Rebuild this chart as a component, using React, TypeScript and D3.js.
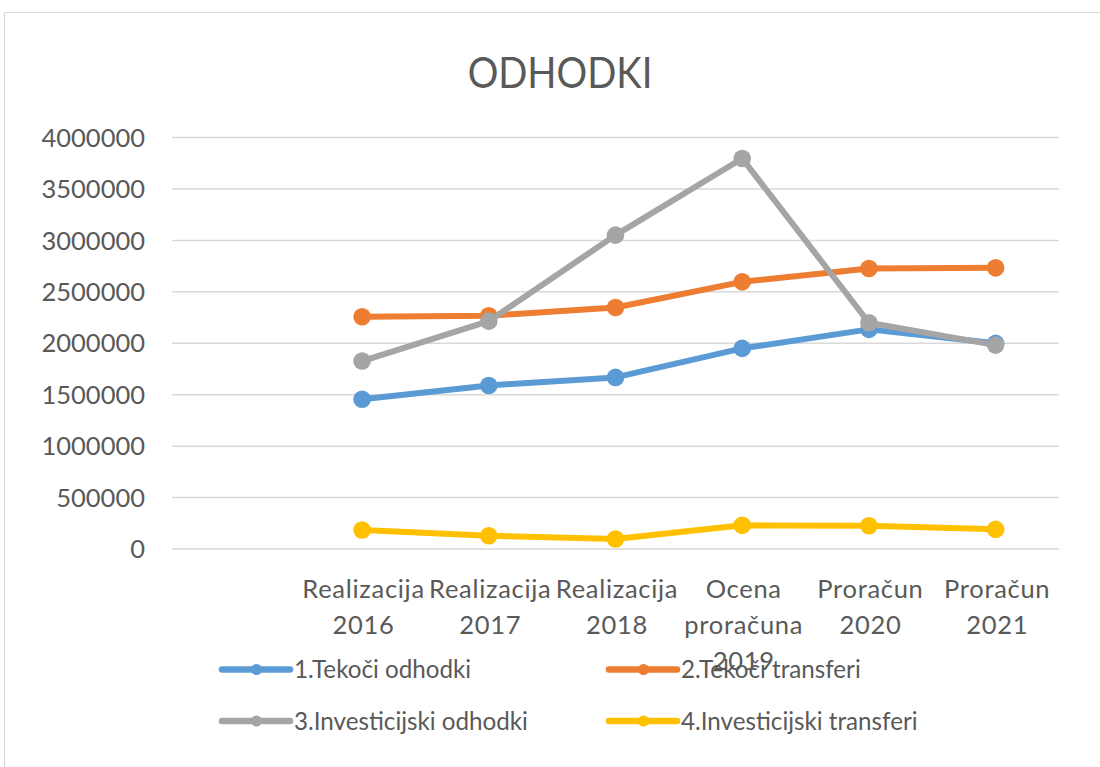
import React from "react";
import * as d3 from "d3";

const categories = [
  "",
  "Realizacija 2016",
  "Realizacija 2017",
  "Realizacija 2018",
  "Ocena proračuna 2019",
  "Proračun 2020",
  "Proračun 2021",
];
const dataCategories = categories.slice(1);

const seriesNames = [
  "1.Tekoči odhodki",
  "2.Tekoči transferi",
  "3.Investicijski odhodki",
  "4.Investicijski transferi",
];
const tekociOdhodki = [1455000, 1590000, 1668000, 1950000, 2135000, 1999000];
const tekociTransferi = [2257000, 2268000, 2348000, 2597000, 2727000, 2733000];
const investicijskiOdhodki = [1827000, 2215000, 3051000, 3796000, 2199000, 1982000];
const investicijskiTransferi = [185000, 129000, 97000, 230000, 226000, 191000];
const yTicks = [0, 500000, 1000000, 1500000, 2000000, 2500000, 3000000, 3500000, 4000000];

const colors = ["#5b9bd5", "#ed7d31", "#a5a5a5", "#ffc000"];
const seriesValues = [tekociOdhodki, tekociTransferi, investicijskiOdhodki, investicijskiTransferi];

const FONT = "Lato, 'Noto Sans', sans-serif";
const TEXT = "#595959";

export default function App() {
  const x = d3.scaleBand<string>().domain(categories).range([172, 1059]).padding(0);
  const y = d3.scaleLinear().domain([0, 4000000]).range([549, 137.5]);
  const cx = (c: string) => (x(c) as number) + x.bandwidth() / 2;

  const line = d3
    .line<number>()
    .x((_, i) => cx(dataCategories[i]))
    .y((d) => y(d));

  const drawOrder = [0, 1, 2, 3];

  const legendPos = [
    { x: 222, y: 669.5 },
    { x: 609, y: 669.5 },
    { x: 222, y: 721 },
    { x: 609, y: 721 },
  ];

  return (
    <svg
      width={1100}
      height={767}
      style={{ position: "absolute", left: 0, top: 0, background: "#fff" }}
      fontFamily={FONT}
    >
      <rect x={0} y={0} width={1100} height={767} fill="#fff" />
      <line x1={4.5} y1={12.5} x2={1100} y2={12.5} stroke="#d9d9d9" strokeWidth={1.2} />
      <line x1={4.5} y1={12.5} x2={4.5} y2={767} stroke="#d9d9d9" strokeWidth={1.2} />

      <g transform="translate(560,88) scale(0.89,1)">
        <text x={0} y={0} textAnchor="middle" fontSize={43} fill={TEXT}>
          ODHODKI
        </text>
      </g>

      {yTicks.map((t) => (
        <line
          key={"g" + t}
          x1={172}
          x2={1059}
          y1={y(t)}
          y2={y(t)}
          stroke="#d9d9d9"
          strokeWidth={1.5}
        />
      ))}
      {yTicks.map((t) => (
        <text
          key={"t" + t}
          x={145}
          y={y(t) + 9.2}
          textAnchor="end"
          fontSize={25.5}
          fill={TEXT}
        >
          {t}
        </text>
      ))}

      {dataCategories.map((c) => {
        const words = c.split(" ");
        return (
          <text key={c} textAnchor="middle" fontSize={25.5} fill={TEXT} letterSpacing={0.7}>
            {words.map((w, i) => (
              <tspan key={i} x={cx(c) + 1.5} y={598 + i * 36}>
                {w}
              </tspan>
            ))}
          </text>
        );
      })}

      {drawOrder.map((si) => (
        <g key={"s" + si}>
          <path
            d={line(seriesValues[si]) as string}
            fill="none"
            stroke={colors[si]}
            strokeWidth={6}
            strokeLinejoin="round"
            strokeLinecap="round"
          />
          {seriesValues[si].map((v, i) => (
            <circle key={i} cx={cx(dataCategories[i])} cy={y(v)} r={8.8} fill={colors[si]} />
          ))}
        </g>
      ))}

      {seriesNames.map((n, i) => {
        const p = legendPos[i];
        return (
          <g key={"l" + i}>
            <line
              x1={p.x}
              x2={p.x + 68}
              y1={p.y}
              y2={p.y}
              stroke={colors[i]}
              strokeWidth={6.5}
              strokeLinecap="round"
            />
            <circle cx={p.x + 34.5} cy={p.y} r={5.5} fill={colors[i]} />
            <text x={p.x + 72} y={p.y + 8.8} fontSize={24.2} fill={TEXT}>
              {n}
            </text>
          </g>
        );
      })}
    </svg>
  );
}
